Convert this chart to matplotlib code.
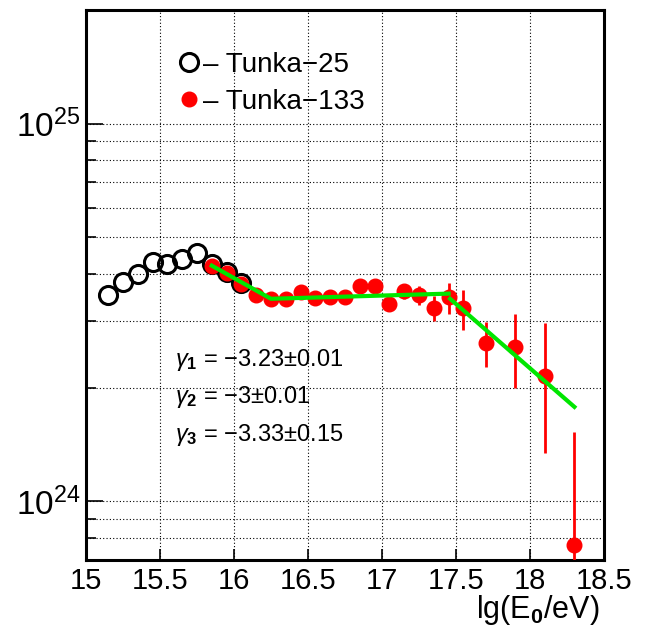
import numpy as np
import matplotlib
matplotlib.use("Agg")
import matplotlib.pyplot as plt
from matplotlib.ticker import LogLocator, FixedLocator, NullFormatter

plt.rcParams['font.family'] = ['Liberation Sans', 'DejaVu Sans']
plt.rcParams['mathtext.fontset'] = 'custom'
plt.rcParams['mathtext.rm'] = 'Liberation Sans'
plt.rcParams['mathtext.it'] = 'Liberation Sans:italic'
plt.rcParams['mathtext.bf'] = 'Liberation Sans:bold'

# 1. DATA

t25_x = [15.15, 15.25, 15.35, 15.45, 15.55, 15.65, 15.75, 15.85, 15.95, 16.05]
t25_y = [3.53e24, 3.82e24, 3.99e24, 4.30e24, 4.26e24, 4.38e24, 4.56e24, 4.26e24, 4.04e24, 3.79e24]

t133_x = [15.85, 15.95, 16.05, 16.15, 16.25, 16.35, 16.45, 16.55, 16.65, 16.75, 16.85,
          16.95, 17.05, 17.15, 17.25, 17.35, 17.45, 17.55, 17.7, 17.9, 18.1, 18.3]
t133_y = [4.21e24, 4.02e24, 3.76e24, 3.53e24, 3.44e24, 3.44e24, 3.58e24, 3.46e24, 3.48e24,
          3.48e24, 3.72e24, 3.72e24, 3.33e24, 3.60e24, 3.52e24, 3.26e24, 3.48e24, 3.26e24,
          2.63e24, 2.57e24, 2.15e24, 7.69e23]
t133_lo = [4.21e24, 4.02e24, 3.76e24, 3.53e24, 3.44e24, 3.44e24, 3.50e24, 3.46e24, 3.48e24,
           3.48e24, 3.72e24, 3.72e24, 3.33e24, 3.43e24, 3.31e24, 3.00e24, 3.14e24, 2.84e24,
           2.27e24, 2.00e24, 1.34e24, 5.0e23]
t133_hi = [4.21e24, 4.02e24, 3.76e24, 3.53e24, 3.44e24, 3.44e24, 3.66e24, 3.46e24, 3.48e24,
           3.48e24, 3.72e24, 3.72e24, 3.33e24, 3.71e24, 3.71e24, 3.49e24, 3.79e24, 3.64e24,
           2.98e24, 3.13e24, 2.96e24, 1.53e24]

# broken power-law fit
fit1_x = [15.85, 16.25, 17.45]
fit1_y = [4.21e24, 3.44e24, 3.55e24]
fit2_x = [17.46, 18.3]
fit2_y = [3.44e24, 1.78e24]

gamma_text = [r'$\gamma_{\mathbf{1}}$ = $-$3.23$\pm$0.01',
              r'$\gamma_{\mathbf{2}}$ = $-$3$\pm$0.01',
              r'$\gamma_{\mathbf{3}}$ = $-$3.33$\pm$0.15']

# 2. PLOT

fig = plt.figure(figsize=(6.56, 6.27), dpi=100)
ax = fig.add_axes([86 / 656, 1 - 560 / 627, 518 / 656, 550 / 627])
ax.set_yscale('log')

t133_y = np.array(t133_y)
yerr = [t133_y - np.array(t133_lo), np.array(t133_hi) - t133_y]

ax.plot(fit1_x, fit1_y, color='#00e600', lw=3, zorder=4)
ax.plot(fit2_x, fit2_y, color='#00e600', lw=3, zorder=4)

h25, = ax.plot(t25_x, t25_y, 'o', ms=13, mfc='none', mec='black', mew=2.2,
               zorder=3, label='\u2013 Tunka\u221225')
ax.errorbar(t133_x, t133_y, yerr=yerr, fmt='none', ecolor='red', elinewidth=2,
            capsize=0, zorder=3.5)
h133, = ax.plot(t133_x, t133_y, 'o', ms=10.5, color='red', mec='red',
                zorder=3.6, label='\u2013 Tunka\u2212133')

ax.set_xlim(15, 18.5)
ax.set_ylim(7.0e23, 2.0e25)

ax.xaxis.set_major_locator(FixedLocator([15, 15.5, 16, 16.5, 17, 17.5, 18, 18.5]))
ax.set_xticklabels(['15', '15.5', '16', '16.5', '17', '17.5', '18', '18.5'])
ax.yaxis.set_major_locator(LogLocator(base=10))
ax.yaxis.set_minor_locator(LogLocator(base=10, subs=np.arange(2, 10)))
ax.yaxis.set_minor_formatter(NullFormatter())

ax.tick_params(axis='both', which='both', direction='in', pad=6)
ax.tick_params(axis='x', which='major', length=8, width=1.2, labelsize=21, pad=5)
ax.tick_params(axis='y', which='major', length=12, width=1.2, labelsize=24, pad=4)
ax.tick_params(axis='y', which='minor', length=7, width=1.2)

ax.grid(True, which='major', axis='x', color='black', linestyle=(0, (1, 2)), lw=0.8)
ax.grid(True, which='both', axis='y', color='black', linestyle=(0, (1, 2)), lw=0.8)
ax.set_axisbelow(True)

for s in ax.spines.values():
    s.set_linewidth(2.2)

ax.set_xlabel(r'lg(E$_{\mathbf{0}}$/eV)', fontsize=22)
ax.xaxis.set_label_coords(0.992, -0.06)
ax.xaxis.label.set_horizontalalignment('right')

for i, txt in enumerate(gamma_text):
    ax.text(175 / 656, 1 - (360 + 37.5 * i) / 627, txt, transform=fig.transFigure,
            fontsize=17, va='center', ha='left')

ax.legend(handles=[h25, h133], loc='upper left', bbox_to_anchor=(0.172, 0.924),
          frameon=False, fontsize=20, handlelength=1.0, handletextpad=0.0,
          borderpad=0, borderaxespad=0, labelspacing=0.4)

fig.savefig('out.png', dpi=100)
